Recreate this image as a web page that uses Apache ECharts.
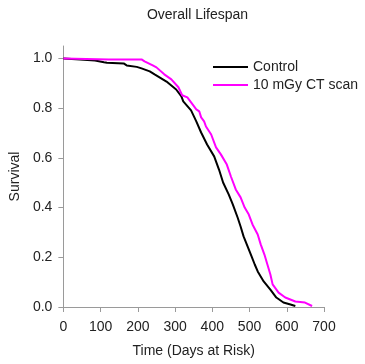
<!DOCTYPE html>
<html>
<head>
<meta charset="utf-8">
<script src="https://cdn.jsdelivr.net/npm/echarts@6/dist/echarts.min.js"></script>
<style>
html,body{margin:0;padding:0;background:#fff;}
#chart{width:365px;height:364px;}
</style>
</head>
<body>
<div id="chart"></div>
<script>
var titleText = 'Overall Lifespan';
var seriesNames = ['Control', '10 mGy CT scan'];
var xTicks = [0, 100, 200, 300, 400, 500, 600, 700];
var yTicks = [0, 0.2, 0.4, 0.6, 0.8, 1.0];

var controlDays = [0,45,85,109,117,162,170,197,210,232,245,277,303,317,322,343,357,370,386,405,418,429,444,455,468,476,484,495,506,514,522,538,556,572,591,610,623];
var controlSurv = [1.0,0.996,0.992,0.985,0.983,0.980,0.972,0.966,0.960,0.948,0.936,0.907,0.875,0.847,0.827,0.791,0.747,0.702,0.654,0.606,0.553,0.501,0.453,0.413,0.360,0.324,0.284,0.243,0.202,0.171,0.143,0.103,0.070,0.038,0.018,0.010,0.004];

var ctDays = [0,122,210,218,240,250,271,290,309,319,333,343,357,365,370,378,383,397,410,423,439,450,463,476,487,498,508,522,530,540,548,556,562,578,596,623,649,668];
var ctSurv = [1.0,0.996,0.996,0.988,0.972,0.964,0.936,0.916,0.884,0.852,0.843,0.823,0.795,0.787,0.763,0.747,0.726,0.694,0.642,0.614,0.573,0.525,0.473,0.441,0.400,0.372,0.332,0.292,0.252,0.211,0.171,0.131,0.091,0.058,0.038,0.022,0.018,0.004];

function pairs(xs, ys){ return xs.map(function(x,i){ return [x, ys[i]]; }); }

var FONT = 'Liberation Sans, Arial, sans-serif';
var TXT = '#222';
var AX = '#9a9a9a';

var chart = echarts.init(document.getElementById('chart'), null, {renderer:'canvas'});
chart.setOption({
  animation: false,
  backgroundColor: '#fff',
  textStyle: {fontFamily: FONT},
  title: {
    text: titleText, left: 192.5, top: 3, textAlign: 'center',
    textStyle: {fontFamily: FONT, fontSize: 14, fontWeight: 'normal', color: TXT}
  },
  legend: {
    data: seriesNames, orient: 'vertical', left: 213, top: 60, padding: 0,
    itemGap: 4, itemWidth: 35, itemHeight: 2, icon: 'rect',
    textStyle: {fontFamily: FONT, fontSize: 14, color: TXT}
  },
  grid: {left: 61, right: 41, top: 46, bottom: 57, containLabel: false},
  xAxis: {
    type: 'value', min: 0, max: 700, interval: 100,
    name: 'Time (Days at Risk)', nameLocation: 'middle', nameGap: 37,
    nameTextStyle: {fontFamily: FONT, fontSize: 14, color: TXT},
    axisLine: {show: true, lineStyle: {color: AX, width: 1}},
    axisTick: {show: true, length: 5, lineStyle: {color: AX}, customValues: xTicks},
    axisLabel: {fontFamily: FONT, fontSize: 14, color: TXT, margin: 13, customValues: xTicks},
    splitLine: {show: false}
  },
  yAxis: {
    type: 'value', min: 0, max: 1.05,
    name: 'Survival', nameLocation: 'middle', nameGap: 39, nameRotate: 90,
    nameTextStyle: {fontFamily: FONT, fontSize: 14, color: TXT},
    axisLine: {show: true, lineStyle: {color: AX, width: 1}},
    axisTick: {show: true, length: 5, lineStyle: {color: AX}, customValues: yTicks},
    axisLabel: {fontFamily: FONT, fontSize: 14, color: TXT, margin: 11, customValues: yTicks,
      formatter: function(v){ return v.toFixed(1); }},
    splitLine: {show: false}
  },
  series: [
    {name: seriesNames[0], type: 'line', data: pairs(controlDays, controlSurv), symbol: 'none',
     itemStyle: {color: '#000000'}, lineStyle: {color: '#000000', width: 2}, z: 2},
    {name: seriesNames[1], type: 'line', data: pairs(ctDays, ctSurv), symbol: 'none',
     itemStyle: {color: '#ff00ff'}, lineStyle: {color: '#ff00ff', width: 2}, z: 3}
  ]
});
</script>
</body>
</html>
